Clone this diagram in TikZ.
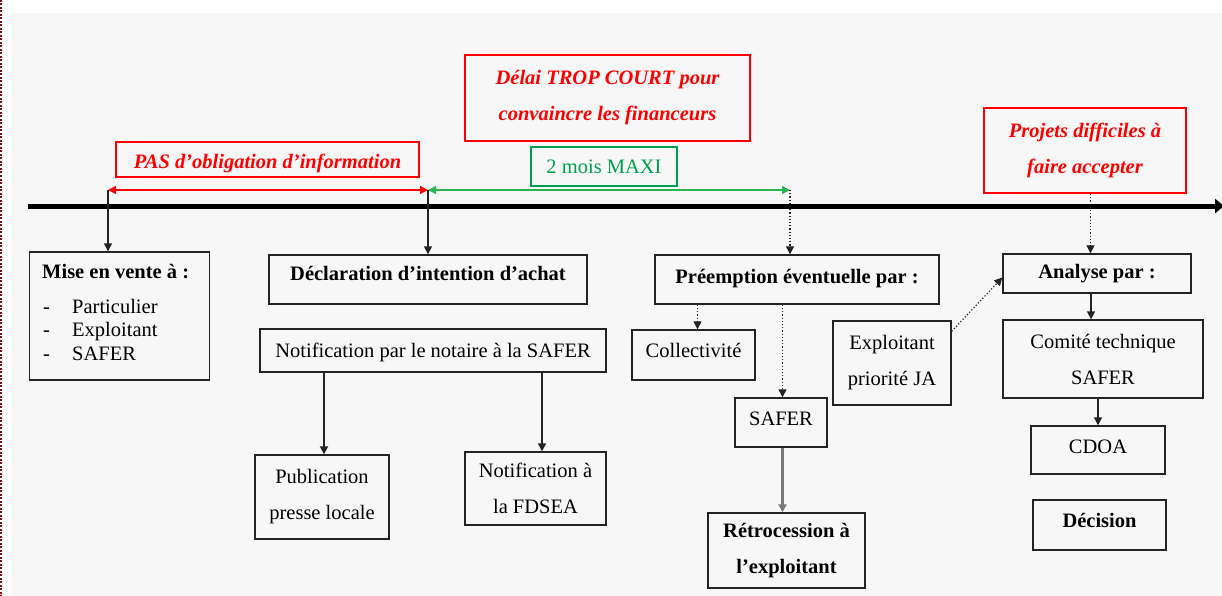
\documentclass[tikz,border=0pt]{standalone}
\usepackage{fontspec}
\setmainfont{Liberation Serif}
\usetikzlibrary{arrows.meta,calc}
\definecolor{bggray}{RGB}{247,247,247}
\definecolor{boxline}{RGB}{35,35,35}
\definecolor{myred}{RGB}{255,0,0}
\definecolor{mygreen}{RGB}{0,160,80}
\definecolor{lgreen}{RGB}{40,180,80}
\definecolor{dred}{RGB}{140,10,10}
\definecolor{arrgray}{RGB}{120,120,120}
\newcommand{\liftby}[2]{\raisebox{#1}[\height][\depth]{#2}}
\begin{document}
\begin{tikzpicture}[x=1pt,y=-1pt,
  txt/.style={font=\fontsize{20.5}{36}\selectfont},
  box/.style={draw=boxline, line width=1.4pt, align=center, inner sep=0pt, txt},
  bbox/.style={box, font=\fontsize{20.5}{36}\selectfont\bfseries},
  redbox/.style={draw=myred, line width=2pt, align=center, inner sep=0pt, text=myred, font=\fontsize{20.5}{36}\selectfont\bfseries\itshape},
  greenbox/.style={draw=mygreen, line width=2.2pt, align=center, inner sep=0pt, text=mygreen, txt},
  tip/.tip={Triangle[length=8pt,width=8pt]},
  arr/.style={-tip, line width=1.4pt, draw=boxline},
  darr/.style={-tip, line width=1.2pt, draw=boxline, dotted},
  dbl/.style={tip-tip, line width=1.2pt},
  listtxt/.style={anchor=base west, inner sep=0pt, txt}
]
\useasboundingbox (0,0) rectangle (1222,596);
\fill[white] (0,0) rectangle (1222,596);
\fill[bggray] (11,13) rectangle (1222,596);
\draw[dred, line width=2pt, dash pattern=on 2pt off 1.5pt] (1,0) -- (1,596);

% timeline
\coordinate (tl0) at (28,206);
\coordinate (tl1) at (1224,206);
\draw[line width=5pt, -{Triangle[length=9pt,width=14pt]}] (tl0) -- (tl1);

\coordinate (t1) at (108,190);
\coordinate (t2) at (428,190);
\coordinate (t3) at (790,190);

% top labels
\node[redbox, minimum width=303pt, minimum height=35pt] (pas) at (267.5,159.5) {\liftby{-4pt}{PAS d’obligation d’information}};
\node[redbox, minimum width=285pt, minimum height=86pt] (delai) at (607.5,98) {Délai TROP COURT pour\\convaincre les financeurs};
\node[greenbox, minimum width=146pt, minimum height=39pt] (mois) at (604,166.5) {2 mois MAXI};
\node[redbox, minimum width=202pt, minimum height=85pt] (projets) at (1085,150.5) {Projets difficiles à\\faire accepter};

\draw[dbl, myred] (t1) -- (t2);
\draw[dbl, lgreen] (t2) -- (t3);

% boxes
\node[box, minimum width=180pt, minimum height=128pt] (mise) at (119.5,316) {};
\node[listtxt, font=\fontsize{20.5}{36}\selectfont\bfseries] (miseh) at (42,278) {Mise en vente à :};
\node[listtxt] (m1d) at (43,313) {-};
\node[listtxt] (m1) at (72,313) {Particulier};
\node[listtxt] (m2d) at (43,336) {-};
\node[listtxt] (m2) at (72,336) {Exploitant};
\node[listtxt] (m3d) at (43,360.5) {-};
\node[listtxt] (m3) at (72,360.5) {SAFER};

\node[bbox, minimum width=318pt, minimum height=49pt] (decl) at (428,279.5) {\liftby{6pt}{Déclaration d’intention d’achat}};
\node[box, minimum width=346pt, minimum height=43pt] (notif) at (433,350.5) {\liftby{-2pt}{Notification par le notaire à la SAFER}};
\node[box, minimum width=134pt, minimum height=84pt] (publi) at (322,497) {Publication\\presse locale};
\node[box, minimum width=141pt, minimum height=73pt] (fdsea) at (535.5,488.5) {Notification à\\la FDSEA};

\node[bbox, minimum width=284pt, minimum height=49pt] (preemp) at (797,279.5) {\liftby{1pt}{Préemption éventuelle par :}};
\node[box, minimum width=123pt, minimum height=50pt] (collec) at (693.5,355) {\liftby{5pt}{Collectivité}};
\node[box, minimum width=92pt, minimum height=49pt] (safer) at (781,422.5) {\liftby{4pt}{SAFER}};
\node[bbox, minimum width=157pt, minimum height=75pt] (retro) at (786.5,550.5) {Rétrocession à\\l’exploitant};
\node[box, minimum width=118pt, minimum height=84pt] (exploit) at (892,363) {Exploitant\\priorité JA};

\node[bbox, minimum width=188pt, minimum height=39pt] (analyse) at (1097,273.5) {Analyse par :};
\node[box, minimum width=200pt, minimum height=78pt] (comite) at (1103,359) {Comité technique\\SAFER};
\node[box, minimum width=134pt, minimum height=48pt] (cdoa) at (1098,450) {\liftby{3pt}{CDOA}};
\node[bbox, minimum width=133pt, minimum height=50pt] (decision) at (1099.5,525) {\liftby{5pt}{Décision}};

% connectors
\draw[arr] (t1) -- (t1 |- mise.north);
\draw[arr] (t2) -- (t2 |- decl.north);
\draw[darr] (t3) -- (t3 |- preemp.north);
\draw[darr] ([xshift=5.5pt]projets.south) -- ([xshift=5.5pt]projets.south |- analyse.north);

\draw[arr, line width=1.8pt] ([xshift=2pt]publi.north |- notif.south) -- ([xshift=2pt]publi.north);
\draw[arr] ([xshift=6.5pt]fdsea.north |- notif.south) -- ([xshift=6.5pt]fdsea.north);

\draw[darr] ([xshift=4pt]collec.north |- preemp.south) -- ([xshift=4pt]collec.north);
\draw[darr] ([xshift=1.5pt]safer.north |- preemp.south) -- ([xshift=1.5pt]safer.north);
\draw[arr, draw=arrgray, line width=2.2pt] ([xshift=1.5pt]safer.south) -- ([xshift=1.5pt]safer.south |- retro.north);

\draw[darr] ([yshift=-11pt]exploit.north east) -- ([yshift=-4pt]analyse.west);
\draw[arr] ([xshift=-6pt]analyse.south) -- ([xshift=-6pt]analyse.south |- comite.north);
\draw[arr] (cdoa.north |- comite.south) -- (cdoa.north);
\end{tikzpicture}
\end{document}
